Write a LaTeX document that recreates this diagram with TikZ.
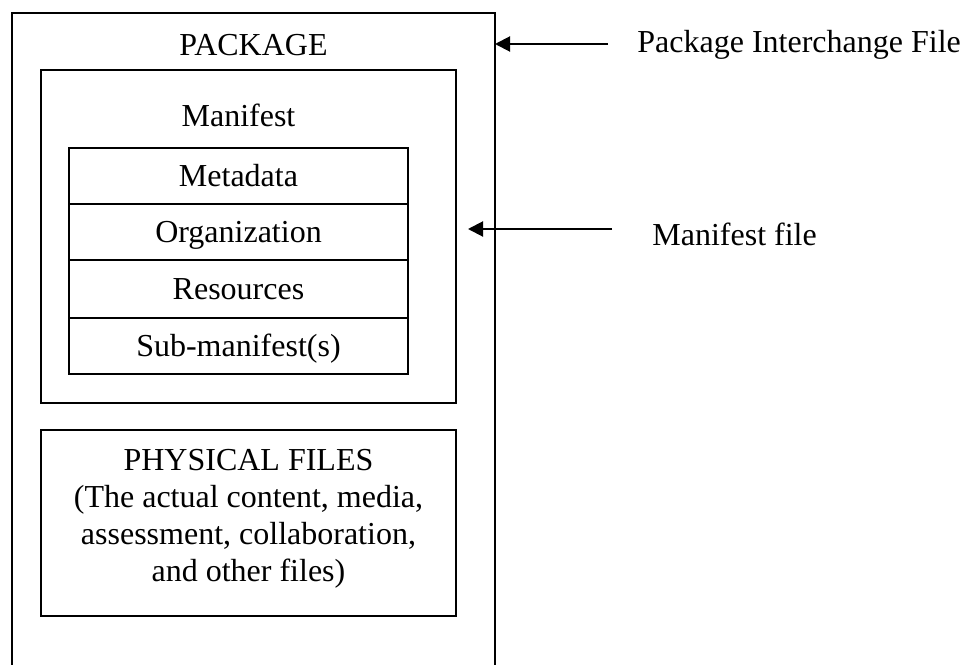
\documentclass[tikz,border=0pt]{standalone}
\usepackage{fontspec}
\setmainfont{Liberation Serif}
\usetikzlibrary{arrows.meta}
\begin{document}
\begin{tikzpicture}[x=0.5pt,y=-0.5pt,
  txt/.style={font=\fontsize{16}{18.5}\selectfont, inner sep=0pt},
  box/.style={draw, line width=1pt, inner sep=0pt},
  rowbox/.style={box, minimum width=169.5pt, text height=11pt, text depth=1pt, font=\fontsize{16}{18.5}\selectfont},
  pointer/.style={line width=1pt, -{Triangle[length=7.5pt,width=7.5pt]}}]
\useasboundingbox (0,0) rectangle (968,664);
\begin{scope}
\clip (0,0) rectangle (968,664);
\draw[line width=1pt] (12,13) rectangle (495,720);
\end{scope}
\coordinate (pkgE) at (495,44);
\node[txt, anchor=base] (pkgtitle) at (253.5,55) {PACKAGE};
\node[box, minimum width=207.5pt, minimum height=166.5pt] (manifest) at (248.5,236.5) {};
\node[txt, anchor=base] (mantitle) at (238.5,126) {Manifest};
\node[rowbox, minimum height=28pt] (meta) at (238.5,176) {Metadata};
\node[rowbox, minimum height=28pt] (org) at (238.5,232) {Organization};
\node[rowbox, minimum height=29pt] (res) at (238.5,289) {Resources};
\node[rowbox, minimum height=28pt] (sub) at (238.5,346) {Sub-manifest(s)};
\node[box, minimum width=207.5pt, minimum height=93pt] (phys) at (248.5,523) {};
\node[txt, align=center] (phystext) at (248.5,519) {PHYSICAL FILES\\(The actual content, media,\\assessment, collaboration,\\and other files)};
\coordinate (a1) at (608,44);
\coordinate (a2) at (612,229);
\coordinate (a2tip) at (468,229);
\node[txt, anchor=base west] (pif) at (637,52) {Package Interchange File};
\node[txt, anchor=base west] (mf) at (652,245) {Manifest file};
\draw[pointer] (a1) -- (pkgE);
\draw[pointer] (a2) -- (a2tip);
\end{tikzpicture}
\end{document}
